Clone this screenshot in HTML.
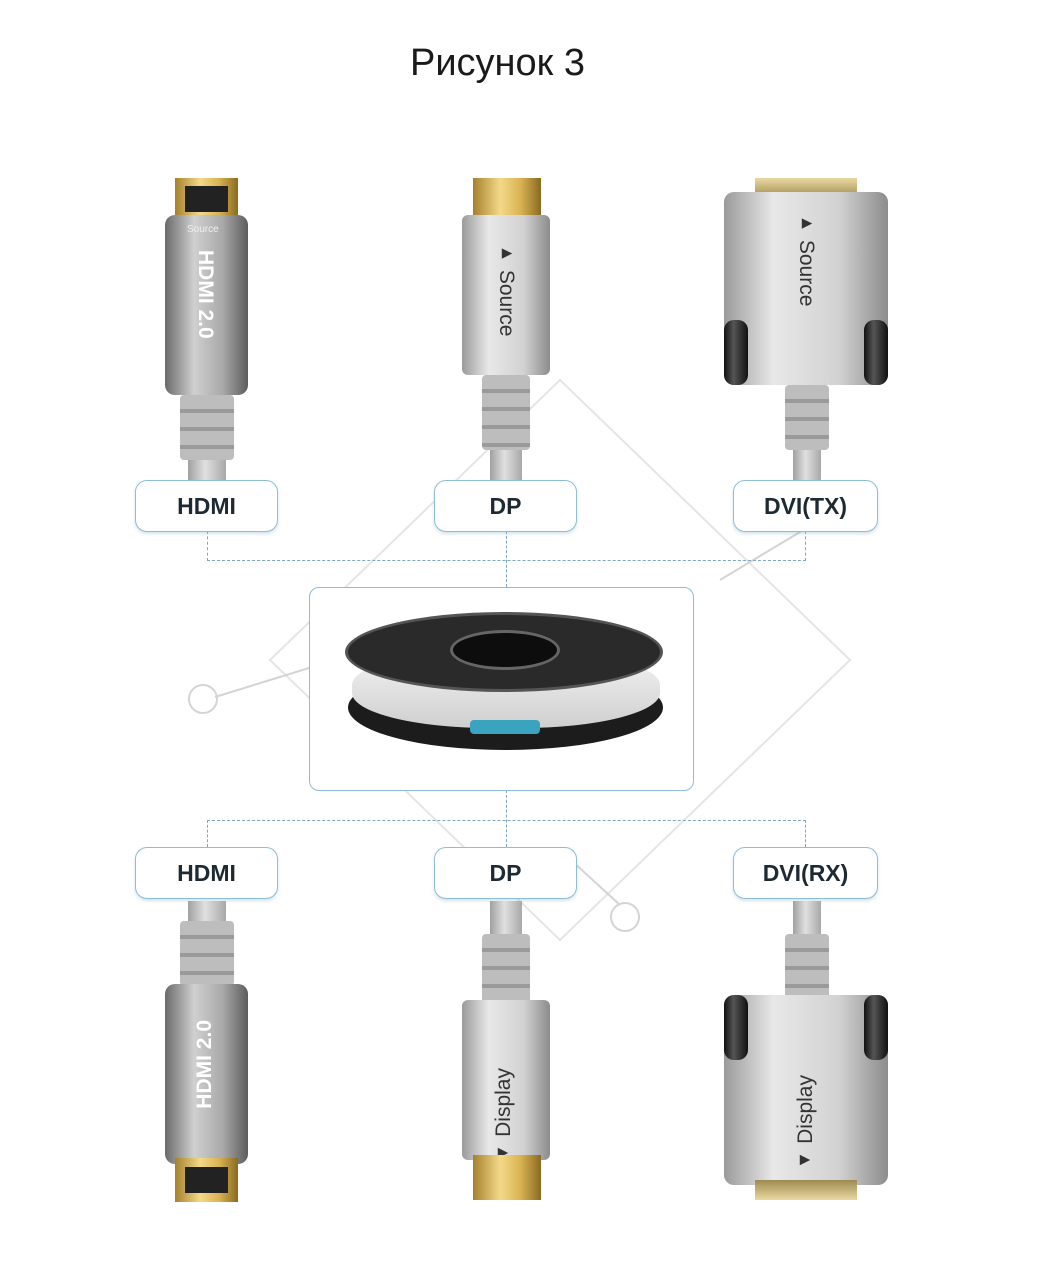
<!DOCTYPE html>
<html><head><meta charset="utf-8"><style>
body{margin:0;background:#fff;}
#c{position:relative;width:1037px;height:1280px;overflow:hidden;background:#fff;font-family:"Liberation Sans",sans-serif;}
.a{position:absolute;box-sizing:border-box;}
.title{left:0;width:995px;top:42px;text-align:center;font-size:38px;color:#1a1a1a;}
.lbl{border:1.5px solid #8fbdd3;border-radius:12px;height:52px;font-weight:bold;font-size:23px;color:#1e2a33;text-align:center;line-height:50px;background:#fff;box-shadow:0 2px 3px rgba(120,160,190,.3);}
.dh{border-top:1.5px dashed #7fa7bd;height:0;}
.dv{border-left:1.5px dashed #7fa7bd;width:0;}
.gold{background:linear-gradient(90deg,#a5812c,#f3d98a 40%,#d9b352 70%,#8a6a20);}
.body{background:linear-gradient(90deg,#9a9a9a,#e8e8e8 30%,#d2d2d2 70%,#8c8c8c);}
.hbody{background:linear-gradient(90deg,#6a6a6a,#d0d0d0 35%,#a8a8a8 70%,#5c5c5c);}
.rel{background:repeating-linear-gradient(180deg,#bdbdbd 0 14px,#9a9a9a 14px 18px);border-radius:4px;}
.cab{background:linear-gradient(90deg,#a0a0a0,#e0e0e0 45%,#a8a8a8);}
.vt{writing-mode:vertical-rl;font-size:21px;color:#333;}
.screw{background:linear-gradient(90deg,#111,#555 40%,#111);border-radius:10px;}
</style></head><body><div id="c">
<div class="a title">Рисунок 3</div>

<!-- watermark -->
<svg class="a" style="left:0;top:0" width="1037" height="1280">
<g fill="none" stroke="#d4d4d4" stroke-width="2">
<path d="M270 660 L560 380 L850 660 L560 940 Z" opacity=".6"/>
<path d="M215 697 L400 640"/><circle cx="203" cy="699" r="14"/>
<path d="M560 850 L620 905"/><circle cx="625" cy="917" r="14"/>
<path d="M720 580 L820 520"/><circle cx="832" cy="514" r="14"/>
<circle cx="493" cy="359" r="14"/>
</g></svg>

<!-- dashed connectors -->
<div class="a dv" style="left:207px;top:531px;height:30px"></div>
<div class="a dv" style="left:506px;top:531px;height:56px"></div>
<div class="a dv" style="left:805px;top:531px;height:30px"></div>
<div class="a dh" style="left:207px;top:560px;width:599px"></div>
<div class="a dv" style="left:506px;top:790px;height:57px"></div>
<div class="a dh" style="left:207px;top:820px;width:599px"></div>
<div class="a dv" style="left:207px;top:820px;height:27px"></div>
<div class="a dv" style="left:805px;top:820px;height:27px"></div>

<!-- center box -->
<div class="a" style="left:309px;top:587px;width:385px;height:204px;border:1.5px solid #8fbdd3;border-radius:10px;background:#fff"></div>
<div class="a" style="left:348px;top:665px;width:315px;height:85px;border-radius:50%;background:#1c1c1c"></div>
<div class="a" style="left:352px;top:650px;width:308px;height:78px;border-radius:45%;background:linear-gradient(180deg,#f4f4f4,#cfcfcf)"></div>
<div class="a" style="left:345px;top:612px;width:318px;height:80px;border-radius:50%;background:#2a2a2a;border:3px solid #555"></div>
<div class="a" style="left:450px;top:630px;width:110px;height:40px;border-radius:50%;background:#0d0d0d;border:3px solid #666"></div>
<div class="a" style="left:470px;top:720px;width:70px;height:14px;background:#3aa3c0;border-radius:4px"></div>

<!-- top labels -->
<div class="a lbl" style="left:135px;top:480px;width:143px">HDMI</div>
<div class="a lbl" style="left:434px;top:480px;width:143px">DP</div>
<div class="a lbl" style="left:733px;top:480px;width:145px">DVI(TX)</div>
<!-- bottom labels -->
<div class="a lbl" style="left:135px;top:847px;width:143px">HDMI</div>
<div class="a lbl" style="left:434px;top:847px;width:143px">DP</div>
<div class="a lbl" style="left:733px;top:847px;width:145px">DVI(RX)</div>

<!-- top HDMI -->
<div class="a gold" style="left:175px;top:178px;width:63px;height:44px"></div>
<div class="a" style="left:185px;top:186px;width:43px;height:26px;background:#222"></div>
<div class="a hbody" style="left:165px;top:215px;width:83px;height:180px;border-radius:10px"></div>
<div class="a" style="left:187px;top:224px;font-size:10px;color:#eee">Source</div>
<div class="a vt" style="left:193px;top:250px;color:#fff;font-weight:bold">HDMI 2.0</div>
<div class="a rel" style="left:180px;top:395px;width:54px;height:65px"></div>
<div class="a cab" style="left:188px;top:460px;width:38px;height:20px"></div>
<!-- top DP -->
<div class="a gold" style="left:473px;top:178px;width:68px;height:44px"></div>
<div class="a body" style="left:462px;top:215px;width:88px;height:160px;border-radius:6px"></div>
<div class="a vt" style="left:494px;top:240px">▸ Source</div>
<div class="a rel" style="left:482px;top:375px;width:48px;height:75px"></div>
<div class="a cab" style="left:490px;top:450px;width:32px;height:30px"></div>
<!-- top DVI -->
<div class="a" style="left:755px;top:178px;width:102px;height:20px;background:linear-gradient(#e9d9a0,#9d8a50)"></div>
<div class="a body" style="left:724px;top:192px;width:164px;height:193px;border-radius:10px"></div>
<div class="a screw" style="left:724px;top:320px;width:24px;height:65px"></div>
<div class="a screw" style="left:864px;top:320px;width:24px;height:65px"></div>
<div class="a vt" style="left:794px;top:210px">▸ Source</div>
<div class="a rel" style="left:785px;top:385px;width:44px;height:65px"></div>
<div class="a cab" style="left:793px;top:450px;width:28px;height:30px"></div>

<!-- bottom HDMI -->
<div class="a cab" style="left:188px;top:901px;width:38px;height:20px"></div>
<div class="a rel" style="left:180px;top:921px;width:54px;height:65px"></div>
<div class="a hbody" style="left:165px;top:984px;width:83px;height:180px;border-radius:10px"></div>
<div class="a vt" style="left:193px;top:1020px;color:#fff;font-weight:bold;transform:rotate(180deg)">HDMI 2.0</div>
<div class="a gold" style="left:175px;top:1158px;width:63px;height:44px"></div>
<div class="a" style="left:185px;top:1167px;width:43px;height:26px;background:#222"></div>
<!-- bottom DP -->
<div class="a cab" style="left:490px;top:901px;width:32px;height:35px"></div>
<div class="a rel" style="left:482px;top:934px;width:48px;height:75px"></div>
<div class="a body" style="left:462px;top:1000px;width:88px;height:160px;border-radius:6px"></div>
<div class="a vt" style="left:492px;top:1068px;transform:rotate(180deg)">◂ Display</div>
<div class="a gold" style="left:473px;top:1155px;width:68px;height:45px"></div>
<!-- bottom DVI -->
<div class="a cab" style="left:793px;top:901px;width:28px;height:35px"></div>
<div class="a rel" style="left:785px;top:934px;width:44px;height:65px"></div>
<div class="a body" style="left:724px;top:995px;width:164px;height:190px;border-radius:10px"></div>
<div class="a screw" style="left:724px;top:995px;width:24px;height:65px"></div>
<div class="a screw" style="left:864px;top:995px;width:24px;height:65px"></div>
<div class="a vt" style="left:794px;top:1075px;transform:rotate(180deg)">◂ Display</div>
<div class="a" style="left:755px;top:1180px;width:102px;height:20px;background:linear-gradient(#9d8a50,#e9d9a0)"></div>
</div></body></html>
